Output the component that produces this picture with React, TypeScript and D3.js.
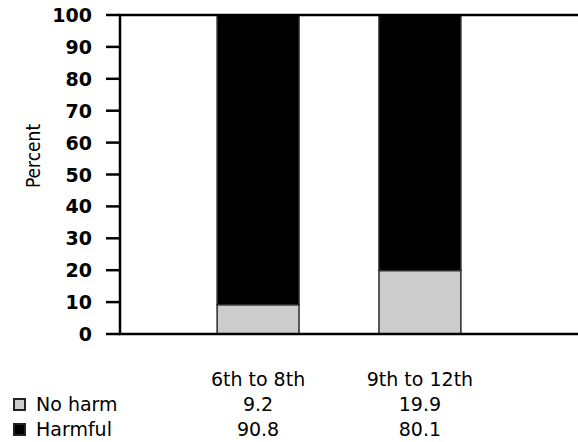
import React from "react";
import * as d3 from "d3";

const categories = ["6th to 8th", "9th to 12th"];
const seriesNames = ["No harm", "Harmful"];
const noHarm = [9.2, 19.9];
const harmful = [90.8, 80.1];
const seriesColors = ["#cccccc", "#000000"];
const yTicks = [0, 10, 20, 30, 40, 50, 60, 70, 80, 90, 100];

const W = 578;
const H = 442;
const left = 120;
const top = 15;
const bottom = 334;
const font = "'DejaVu Sans', Verdana, sans-serif";

export default function App() {
  const y = d3.scaleLinear().domain([0, 100]).range([bottom, top]);
  const x = d3
    .scaleBand<string>()
    .domain(categories)
    .range([left, 558])
    .paddingInner(0.494)
    .paddingOuter(0.6);

  const series = [noHarm, harmful];
  const stacked = categories.map((c, i) => {
    let acc = 0;
    return series.map((s, k) => {
      const y0 = acc;
      acc += s[i];
      return { c, k, y0, y1: acc };
    });
  });

  const rowY = [411, 436];
  return (
    <svg
      width={W}
      height={H}
      style={{ position: "absolute", left: 0, top: 0, background: "#fff" }}
    >
      <rect x={0} y={0} width={W} height={H} fill="#fff" />
      {stacked.flat().map((d, i) => (
        <rect
          key={i}
          x={x(d.c)!}
          y={y(d.y1)}
          width={x.bandwidth()}
          height={y(d.y0) - y(d.y1)}
          fill={seriesColors[d.k]}
          stroke="#2a2a2a"
          strokeWidth={1.5}
        />
      ))}
      {/* frame */}
      <path
        d={`M${W + 10},${top}H${left}V${bottom}H${W + 10}`}
        fill="none"
        stroke="#000"
        strokeWidth={2.5}
      />
      {yTicks.map((t) => (
        <g key={t}>
          <line x1={106} x2={left} y1={y(t)} y2={y(t)} stroke="#000" strokeWidth={2.5} />
          <text
            x={92}
            y={y(t) + 7}
            textAnchor="end"
            fontFamily={font}
            fontSize={19}
            fontWeight="bold"
            fill="#000"
          >
            {t}
          </text>
        </g>
      ))}
      <text
        transform={`translate(40,156) rotate(-90)`}
        textAnchor="middle"
        fontFamily="'Liberation Sans Narrow', 'DejaVu Sans Condensed', 'Liberation Sans', sans-serif"
        fontSize={19}
        fill="#000"
      >
        Percent
      </text>
      {categories.map((c) => (
        <text
          key={c}
          x={x(c)! + x.bandwidth() / 2}
          y={386}
          textAnchor="middle"
          fontFamily={font}
          fontSize={19}
          fill="#000"
        >
          {c}
        </text>
      ))}
      {seriesNames.map((name, k) => (
        <g key={name}>
          <rect
            x={14}
            y={rowY[k] - 12}
            width={11}
            height={11}
            fill={seriesColors[k]}
            stroke="#222"
            strokeWidth={2}
          />
          <text x={36} y={rowY[k]} fontFamily={font} fontSize={19} fill="#000">
            {name}
          </text>
          {categories.map((c, i) => (
            <text
              key={c}
              x={x(c)! + x.bandwidth() / 2}
              y={rowY[k]}
              textAnchor="middle"
              fontFamily={font}
              fontSize={19}
              fill="#000"
            >
              {series[k][i].toFixed(1)}
            </text>
          ))}
        </g>
      ))}
    </svg>
  );
}
